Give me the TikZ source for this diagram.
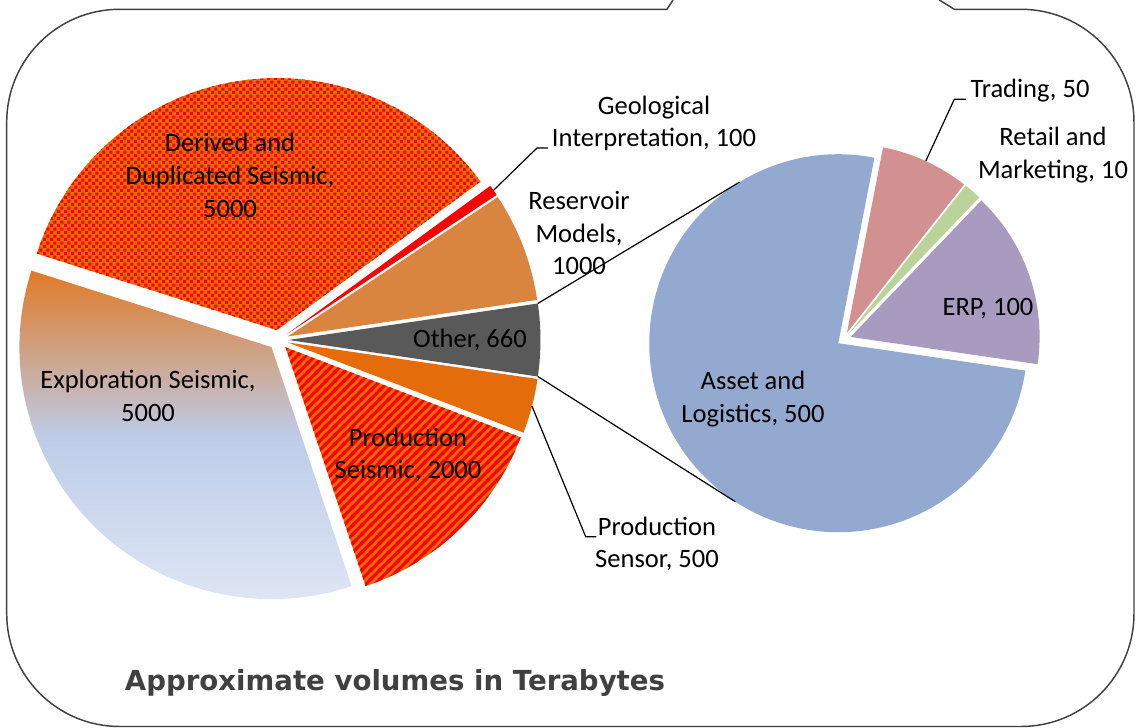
\documentclass[tikz,border=0pt]{standalone}
\usepackage{fontspec}
\setmainfont{Carlito}
\newfontfamily\titlefont{DejaVu Sans}
\usetikzlibrary{calc,patterns}

% fill patterns for the seismic slices
\pgfdeclarepatternformonly{confetti}{\pgfqpoint{0pt}{0pt}}{\pgfqpoint{5.4pt}{5.4pt}}{\pgfqpoint{5.4pt}{5.4pt}}{%
  \pgfpathrectangle{\pgfqpoint{0.1pt}{0.1pt}}{\pgfqpoint{2.5pt}{2.5pt}}%
  \pgfpathrectangle{\pgfqpoint{2.8pt}{2.8pt}}{\pgfqpoint{2.5pt}{2.5pt}}%
  \pgfusepath{fill}}
\pgfdeclarepatternformonly{widestripes}{\pgfqpoint{0pt}{0pt}}{\pgfqpoint{6.6pt}{6.6pt}}{\pgfqpoint{6.6pt}{6.6pt}}{%
  \pgfsetlinewidth{2.4pt}%
  \pgfpathmoveto{\pgfqpoint{-1pt}{-1pt}}\pgfpathlineto{\pgfqpoint{7.6pt}{7.6pt}}%
  \pgfpathmoveto{\pgfqpoint{-4.3pt}{2.3pt}}\pgfpathlineto{\pgfqpoint{4.3pt}{10.9pt}}%
  \pgfpathmoveto{\pgfqpoint{2.3pt}{-4.3pt}}\pgfpathlineto{\pgfqpoint{10.9pt}{4.3pt}}%
  \pgfusepath{stroke}}

\definecolor{sliceorange}{HTML}{E46C0A}
\definecolor{reservoircol}{HTML}{D9853F}
\definecolor{othergrey}{HTML}{595959}
\definecolor{explTop}{HTML}{E07A26}
\definecolor{explMid}{HTML}{BDCCE9}
\definecolor{explBot}{HTML}{DFE6F4}
\definecolor{assetcol}{HTML}{94A9D0}
\definecolor{tradingcol}{HTML}{D29090}
\definecolor{retailcol}{HTML}{BAD39A}
\definecolor{erpcol}{HTML}{A99AC0}
\definecolor{framecol}{HTML}{404040}

% one exploded pie slice: centre, start angle, end angle, radius, explosion, style
\newcommand\pieslice[6]{%
  \path[#6] ($(#1)+({(#2+#3)/2}:#5)$) -- ++(#2:#4)
    arc[start angle=#2,end angle=#3,radius=#4] -- cycle;}

\begin{document}
\begin{tikzpicture}[x=0.75pt,y=0.75pt,
  lbl/.style={font=\fontsize{19.9}{24.6}\selectfont, align=center, inner sep=0pt},
  leader/.style={draw=black, line width=0.9pt},
  seriesline/.style={draw=black, line width=0.9pt},
  frame/.style={draw=framecol, line width=1.1pt},
  title/.style={font=\titlefont\bfseries\fontsize{20.7}{24}\selectfont, text=framecol, inner sep=0pt}]
\useasboundingbox (0,0) rectangle (1136,728);

% callout frame
\draw[frame] (673,728) -- (667,718.7) -- (119.7,718.7)
  arc[start angle=90,end angle=180,radius=113] -- (6.7,114.5)
  arc[start angle=180,end angle=270,radius=113] -- (1021,1.5)
  arc[start angle=270,end angle=360,radius=113] -- (1134,605.7)
  arc[start angle=0,end angle=90,radius=113] -- (954.3,718.7) -- (939.3,728);

\coordinate (C) at (278.5,388);
\coordinate (C2) at (844,388.8);

% main pie (total 14260 TB)
\pieslice{C}{-8.331}{8.331}{252}{10}{fill=othergrey}
\pieslice{C}{8.331}{33.576}{252}{10}{fill=reservoircol}
\pieslice{C}{33.576}{36.101}{252}{10}{fill=red}
\pieslice{C}{36.101}{162.328}{252}{10}{preaction={fill=sliceorange}, pattern=confetti, pattern color=red}
\pieslice{C}{162.328}{288.555}{252}{10}{top color=explTop, bottom color=explBot, middle color=explMid}
\pieslice{C}{288.555}{339.046}{252}{10}{preaction={fill=sliceorange}, pattern=widestripes, pattern color=red}
\pieslice{C}{339.046}{351.669}{252}{10}{fill=sliceorange}

% breakdown of "Other" (660 TB)
\pieslice{C2}{78.973}{351.7}{189}{7}{fill=assetcol}
\pieslice{C2}{51.7}{78.973}{189}{7}{fill=tradingcol}
\pieslice{C2}{46.245}{51.7}{189}{7}{fill=retailcol}
\pieslice{C2}{-8.3}{46.245}{189}{7}{fill=erpcol}

% attachment points
\coordinate (otherTop) at ($(C)+(10,0)+(8.331:252)$);
\coordinate (otherBot) at ($(C)+(10,0)+(-8.331:252)$);
\coordinate (assetApex) at ($(C2)+(215.34:7)$);
\coordinate (assetTop) at ($(assetApex)+(121.5:189)$);
\coordinate (assetBot) at ($(assetApex)+(237:189)$);
\coordinate (geoEdge) at ($(C)+(34.84:262)$);
\coordinate (sensEdge) at ($(C)+(345.36:262)$);
\coordinate (tradEdge) at ($(C2)+(65.34:196)$);

% labels
\node[lbl] (derived) at (230,552.5) {Derived and\\Duplicated Seismic,\\5000};
\node[lbl] (geo) at (654,604.5) {Geological\\Interpretation, 100};
\node[lbl] (reservoir) at (579,495) {Reservoir\\Models,\\1000};
\node[lbl] (other) at (470,388) {Other, 660};
\node[lbl] (prodseis) at (408,273) {Production\\Seismic, 2000};
\node[lbl] (expl) at (148,332) {Exploration Seismic,\\5000};
\node[lbl] (sensor) at (657,184) {Production\\Sensor, 500};
\node[lbl] (asset) at (753,329) {Asset and\\Logistics, 500};
\node[lbl] (trading) at (1030,637) {Trading, 50};
\node[lbl] (retail) at (1053,573) {Retail and\\Marketing, 10};
\node[lbl] (erp) at (988,419) {ERP, 100};
\node[title] (title) at (395,45) {Approximate volumes in Terabytes};

% leader line bends
\coordinate (geoBend) at (537,580);
\coordinate (geoEnd) at (548,580);
\coordinate (sensBend) at (585.7,191.3);
\coordinate (sensEnd) at (596.4,191.3);
\coordinate (tradBend) at (954.3,628.7);
\coordinate (tradEnd) at (966,628.7);

% series lines between the two pies
\draw[seriesline] (otherTop) -- (assetTop);
\draw[seriesline] (otherBot) -- (assetBot);

% leader lines
\draw[leader] (geoEdge) -- (geoBend) -- (geoEnd);
\draw[leader] (sensEdge) -- (sensBend) -- (sensEnd);
\draw[leader] (tradEdge) -- (tradBend) -- (tradEnd);
\end{tikzpicture}
\end{document}
